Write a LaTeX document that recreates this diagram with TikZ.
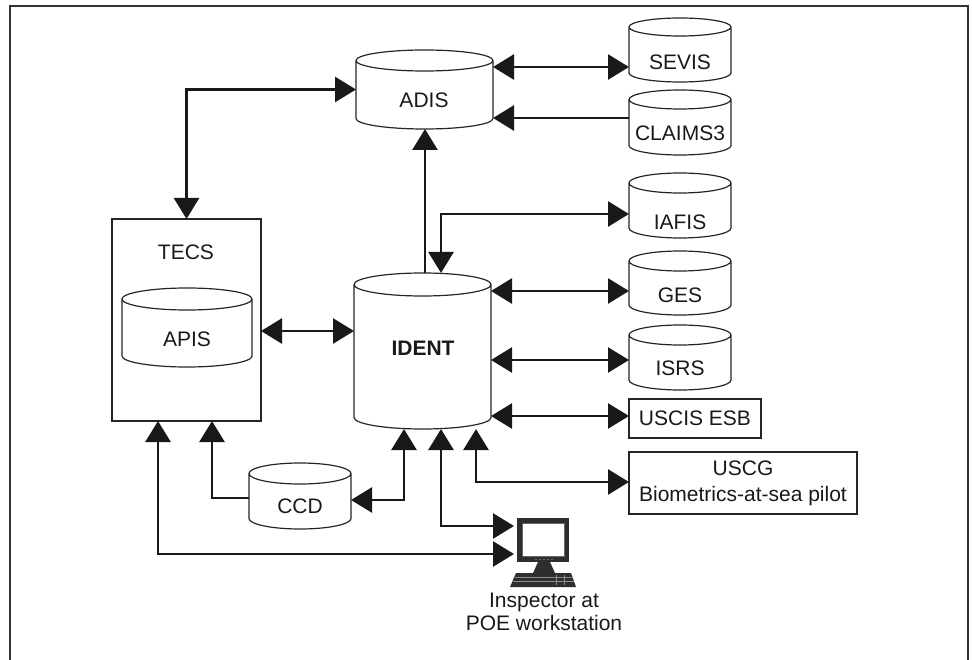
\documentclass[tikz,border=0pt]{standalone}
\usepackage{fontspec}
\setmainfont{Liberation Sans}
\usetikzlibrary{arrows.meta}
\tikzset{
  every node/.style={font=\fontsize{21}{25}\selectfont, inner sep=0pt, outer sep=0pt, text=black!90},
  cylbox/.style={draw=none, rectangle},
  cylline/.style={line width=1.2pt, draw=black!85},
  boxline/.style={draw=black!85, line width=1.2pt, rectangle},
  tipA/.tip={Triangle[length=21pt,width=25pt]},
  conn/.style={line width=2.6pt, draw=black!90, line join=miter},
  both/.style={conn, tipA-tipA},
  one/.style={conn, -tipA},
  framel/.style={line width=2pt, draw=black!80},
  pcdark/.style={fill=black!82},
}
\newcommand\dbcyl[3]{\draw[cylline] ([yshift=-#3pt]#1.north west) -- ([yshift=#3pt]#1.south west) arc[start angle=180,end angle=360,x radius=#2pt,y radius=#3pt] -- ([yshift=-#3pt]#1.north east) arc[start angle=0,end angle=360,x radius=#2pt,y radius=#3pt];}
\begin{document}
\begin{tikzpicture}[x=1pt,y=-1pt]
\useasboundingbox (0,0) rectangle (972,660);
% frame
\draw[framel] (10,660) -- (10,6) -- (968,6) -- (968,660);

% cylinders (invisible boxes + outlines)
\node[cylbox, minimum width=137pt, minimum height=79pt] (adis) at (424.5,89.5) {};
\dbcyl{adis}{68.5}{10.5}
\node (adisT) at (424,100) {ADIS};

\node[cylbox, minimum width=102pt, minimum height=64pt] (sevis) at (680,50) {};
\dbcyl{sevis}{51}{9}
\node (sevisT) at (680,62) {SEVIS};

\node[cylbox, minimum width=102pt, minimum height=65pt] (claims) at (680,122.5) {};
\dbcyl{claims}{51}{9.5}
\node (claimsT) at (680,133) {CLAIMS3};

\node[cylbox, minimum width=102pt, minimum height=65pt] (iafis) at (680,205.5) {};
\dbcyl{iafis}{51}{10}
\node (iafisT) at (680,222) {IAFIS};

\node[cylbox, minimum width=102pt, minimum height=64pt] (ges) at (680,283) {};
\dbcyl{ges}{51}{10}
\node (gesT) at (680,295) {GES};

\node[cylbox, minimum width=102pt, minimum height=65pt] (isrs) at (680,357.5) {};
\dbcyl{isrs}{51}{10}
\node (isrsT) at (680,368) {ISRS};

\node[cylbox, minimum width=137pt, minimum height=156pt] (ident) at (422.5,351) {};
\dbcyl{ident}{68.5}{11.5}
\node[font=\fontsize{21}{25}\selectfont\bfseries] (identT) at (423,348) {IDENT};

\node[boxline, minimum width=149pt, minimum height=202pt] (tecs) at (186.5,320) {};
\node (tecsT) at (186,252) {TECS};

\node[cylbox, minimum width=130pt, minimum height=79pt] (apis) at (187,327.5) {};
\dbcyl{apis}{65}{11}
\node (apisT) at (187,339) {APIS};

\node[cylbox, minimum width=102pt, minimum height=66pt] (ccd) at (300,496) {};
\dbcyl{ccd}{51}{10.5}
\node (ccdT) at (300,506) {CCD};

% boxes
\node[boxline, minimum width=132pt, minimum height=39pt] (uscis) at (695,418.5) {USCIS ESB};
\node[boxline, minimum width=228pt, minimum height=62pt, align=center, font=\fontsize{21}{26}\selectfont] (uscg) at (743,483) {USCG\\Biometrics-at-sea pilot};

% computer icon
\node[cylbox, minimum width=58pt, minimum height=69pt] (pc) at (543,552.5) {};
\fill[pcdark] (517,518) rectangle (569,562);
\fill[white] (522,523) rectangle (564,556);
\draw[black!60, line width=0.6pt] (522,523) rectangle (564,556);
\foreach \dx in {536,540,544,548,552} \fill[black!35] (\dx,559.5) circle[radius=0.6pt];
\fill[pcdark] (538,562) -- (550,562) -- (555,573) -- (533,573) -- cycle;
\fill[pcdark] (516,573) -- (571,573) -- (576,587) -- (510,587) -- cycle;
\draw[black!45, line width=0.6pt] (515,577.5) -- (572,577.5) (513,581.5) -- (574,581.5);
\draw[black!45, line width=0.6pt] (556,575) -- (556,585) (564,575) -- (564,585);
\node[align=center, font=\fontsize{21}{23}\selectfont] (insp) at (544,612) {Inspector at\\POE workstation};

% connectors
\draw[both] (adis.west) -| (tecs.north);
\draw[both] (adis.east |- 0,67) -- (sevis.west |- 0,67);
\draw[one] (claims.west |- 0,118) -- (adis.east |- 0,118);
\draw[one] (425,0 |- ident.north) -- (425,0 |- adis.south);
\draw[both] (iafis.west |- 0,214) -| (441,0 |- ident.north);
\draw[both] (ident.east |- 0,291) -- (ges.west |- 0,291);
\draw[both] (ident.east |- 0,360) -- (isrs.west |- 0,360);
\draw[both] (ident.east |- 0,416) -- (uscis.west |- 0,416);
\draw[both] (uscg.west |- 0,482) -| (476,0 |- ident.south);
\draw[both] (pc.west |- 0,526) -| (441,0 |- ident.south);
\draw[both] (ccd.east |- 0,500) -| (404,0 |- ident.south);
\draw[one] (ccd.west |- 0,498) -| (212,0 |- tecs.south);
\draw[both] (pc.west |- 0,554) -| (158,0 |- tecs.south);
\draw[both] (tecs.east |- 0,331) -- (ident.west |- 0,331);
\end{tikzpicture}
\end{document}
